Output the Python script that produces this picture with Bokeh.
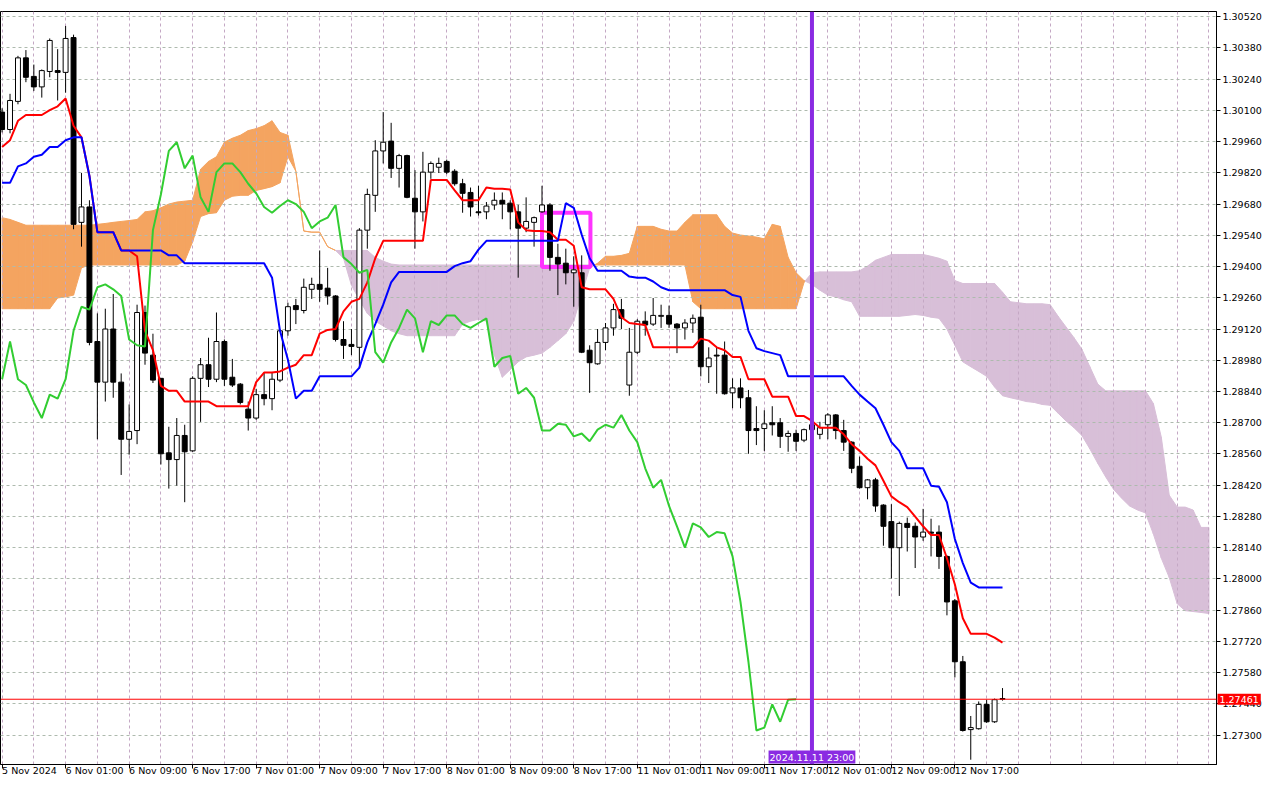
from bokeh.plotting import figure
from bokeh.models import Range1d, FixedTicker, PrintfTickFormatter, Span, Label, BoxAnnotation, ColumnDataSource
from bokeh.embed import file_html
from bokeh.resources import INLINE

# ---------------- data (hourly bars, bar index 0 = 5 Nov 17:00) ----------------
opens = [1.30092, 1.30014, 1.30140, 1.30335, 1.30252, 1.30205, 1.30274, 1.30278, 1.30270, 1.30426,
         1.29598, 1.29667, 1.29064, 1.28882, 1.29120, 1.28882, 1.28626, 1.28665, 1.29194, 1.29003,
         1.28899, 1.28565, 1.28535, 1.28643, 1.28574, 1.28899, 1.28960, 1.28895, 1.29064, 1.28904,
         1.28873, 1.28761, 1.28721, 1.28826, 1.28808, 1.28891, 1.29112, 1.29225, 1.29203, 1.29298,
         1.29320, 1.29303, 1.29268, 1.29073, 1.29051, 1.29038, 1.29563, 1.29719, 1.29918, 1.29962,
         1.29840, 1.29897, 1.29706, 1.29645, 1.29823, 1.29845, 1.29871, 1.29827, 1.29771, 1.29732,
         1.29645, 1.29645, 1.29676, 1.29697, 1.29684, 1.29645, 1.29572, 1.29598, 1.29645, 1.29676,
         1.29441, 1.29415, 1.29372, 1.29372, 1.29025, 1.28964, 1.29060, 1.29125, 1.29207, 1.28869,
         1.29016, 1.29155, 1.29142, 1.29177, 1.29181, 1.29142, 1.29125, 1.29147, 1.29173, 1.28951,
         1.29003, 1.29003, 1.28834, 1.28856, 1.28812, 1.28674, 1.28674, 1.28700, 1.28700, 1.28639,
         1.28652, 1.28622, 1.28669, 1.28648, 1.28691, 1.28735, 1.28665, 1.28613, 1.28505, 1.28409,
         1.28444, 1.28331, 1.28257, 1.28140, 1.28249, 1.28236, 1.28188, 1.28210, 1.28210, 1.28101,
         1.27902, 1.27629, 1.27325, 1.27329, 1.27438, 1.27360, 1.27464]
highs = [1.30109, 1.30174, 1.30344, 1.30370, 1.30305, 1.30283, 1.30422, 1.30374, 1.30478, 1.30439,
         1.29819, 1.29697, 1.29190, 1.29211, 1.29277, 1.28921, 1.28782, 1.29229, 1.29225, 1.29099,
         1.28899, 1.28682, 1.28721, 1.28691, 1.28908, 1.28990, 1.29081, 1.29194, 1.29073, 1.28986,
         1.28878, 1.28795, 1.28852, 1.28925, 1.28925, 1.29120, 1.29238, 1.29255, 1.29346, 1.29350,
         1.29472, 1.29394, 1.29272, 1.29155, 1.29120, 1.29572, 1.29749, 1.29966, 1.30092, 1.30044,
         1.29905, 1.29901, 1.29832, 1.29914, 1.29871, 1.29888, 1.29879, 1.29836, 1.29793, 1.29754,
         1.29762, 1.29689, 1.29732, 1.29732, 1.29697, 1.29676, 1.29710, 1.29624, 1.29762, 1.29684,
         1.29502, 1.29480, 1.29446, 1.29450, 1.29047, 1.29120, 1.29147, 1.29233, 1.29255, 1.29125,
         1.29164, 1.29199, 1.29259, 1.29229, 1.29225, 1.29147, 1.29164, 1.29185, 1.29229, 1.29038,
         1.29038, 1.29064, 1.28899, 1.28899, 1.28847, 1.28774, 1.28756, 1.28774, 1.28721, 1.28665,
         1.28669, 1.28674, 1.28704, 1.28704, 1.28743, 1.28739, 1.28713, 1.28617, 1.28548, 1.28448,
         1.28453, 1.28335, 1.28335, 1.28257, 1.28275, 1.28253, 1.28314, 1.28270, 1.28240, 1.28106,
         1.27910, 1.27655, 1.27386, 1.27451, 1.27459, 1.27464, 1.27511]
lows = [1.30001, 1.29997, 1.30127, 1.30226, 1.30187, 1.30157, 1.30248, 1.30144, 1.30179, 1.29567,
        1.29489, 1.29047, 1.28626, 1.28795, 1.28812, 1.28466, 1.28557, 1.28604, 1.28960, 1.28878,
        1.28513, 1.28405, 1.28418, 1.28344, 1.28570, 1.28704, 1.28860, 1.28882, 1.28865, 1.28860,
        1.28782, 1.28665, 1.28713, 1.28778, 1.28756, 1.28882, 1.29090, 1.29142, 1.29190, 1.29255,
        1.29242, 1.29229, 1.29064, 1.28986, 1.29003, 1.28943, 1.29480, 1.29645, 1.29862, 1.29797,
        1.29754, 1.29706, 1.29480, 1.29602, 1.29793, 1.29819, 1.29814, 1.29762, 1.29641, 1.29624,
        1.29628, 1.29612, 1.29654, 1.29612, 1.29567, 1.29350, 1.29554, 1.29489, 1.29641, 1.29381,
        1.29272, 1.29320, 1.29220, 1.29012, 1.28834, 1.28960, 1.29025, 1.29090, 1.29120, 1.28821,
        1.29008, 1.29090, 1.29134, 1.29125, 1.29125, 1.29012, 1.29073, 1.29103, 1.28908, 1.28878,
        1.28830, 1.28826, 1.28765, 1.28765, 1.28561, 1.28600, 1.28574, 1.28643, 1.28587, 1.28570,
        1.28574, 1.28613, 1.28635, 1.28626, 1.28626, 1.28626, 1.28574, 1.28474, 1.28405, 1.28357,
        1.28301, 1.28149, 1.28002, 1.27924, 1.28123, 1.28049, 1.28171, 1.28101, 1.28045, 1.27837,
        1.27559, 1.27316, 1.27190, 1.27325, 1.27355, 1.27355, 1.27455]
closes = [1.30014, 1.30144, 1.30335, 1.30248, 1.30205, 1.30278, 1.30413, 1.30270, 1.30422, 1.29589,
          1.29667, 1.29060, 1.28882, 1.29120, 1.28882, 1.28626, 1.28661, 1.29194, 1.29012, 1.28891,
          1.28561, 1.28535, 1.28643, 1.28570, 1.28899, 1.28960, 1.28895, 1.29064, 1.28895, 1.28869,
          1.28791, 1.28721, 1.28826, 1.28808, 1.28895, 1.29112, 1.29220, 1.29207, 1.29307, 1.29320,
          1.29298, 1.29268, 1.29073, 1.29047, 1.29042, 1.29563, 1.29723, 1.29918, 1.29957, 1.29840,
          1.29897, 1.29710, 1.29645, 1.29823, 1.29862, 1.29862, 1.29823, 1.29771, 1.29728, 1.29667,
          1.29641, 1.29671, 1.29697, 1.29680, 1.29645, 1.29572, 1.29602, 1.29619, 1.29676, 1.29441,
          1.29411, 1.29372, 1.29385, 1.29016, 1.28969, 1.29060, 1.29125, 1.29207, 1.29168, 1.29016,
          1.29155, 1.29138, 1.29181, 1.29181, 1.29142, 1.29125, 1.29147, 1.29168, 1.28951, 1.28990,
          1.28999, 1.28830, 1.28856, 1.28812, 1.28665, 1.28665, 1.28695, 1.28691, 1.28639, 1.28652,
          1.28617, 1.28669, 1.28691, 1.28678, 1.28735, 1.28665, 1.28613, 1.28496, 1.28409, 1.28444,
          1.28327, 1.28236, 1.28140, 1.28249, 1.28231, 1.28188, 1.28210, 1.28205, 1.28101, 1.27897,
          1.27629, 1.27321, 1.27334, 1.27438, 1.27360, 1.27459, 1.27461]

tenkan = [1.29936, 1.29966, 1.30053, 1.30079, 1.30079, 1.30079, 1.30101, 1.30118, 1.30153, 1.30031,
          1.29979, 1.29806, 1.29554, 1.29554, 1.29554, 1.29472, 1.29472, 1.29446, 1.29112, 1.29025,
          1.28865, 1.28843, 1.28843, 1.28795, 1.28795, 1.28795, 1.28795, 1.28774, 1.28774, 1.28774,
          1.28774, 1.28774, 1.28882, 1.28925, 1.28925, 1.28930, 1.28947, 1.28960, 1.29003, 1.29003,
          1.29099, 1.29116, 1.29120, 1.29199, 1.29242, 1.29255, 1.29329, 1.29437, 1.29515, 1.29515,
          1.29515, 1.29515, 1.29515, 1.29515, 1.29788, 1.29788, 1.29788, 1.29741, 1.29697, 1.29697,
          1.29697, 1.29754, 1.29749, 1.29749, 1.29745, 1.29598, 1.29563, 1.29559, 1.29559, 1.29554,
          1.29520, 1.29520, 1.29493, 1.29307, 1.29298, 1.29298, 1.29298, 1.29255, 1.29173, 1.29147,
          1.29142, 1.29138, 1.29038, 1.29038, 1.29038, 1.29038, 1.29038, 1.29038, 1.29077, 1.29068,
          1.29038, 1.29025, 1.28995, 1.28995, 1.28895, 1.28895, 1.28895, 1.28817, 1.28817, 1.28817,
          1.28730, 1.28730, 1.28708, 1.28678, 1.28678, 1.28678, 1.28648, 1.28604, 1.28574, 1.28539,
          1.28509, 1.28440, 1.28370, 1.28344, 1.28322, 1.28279, 1.28236, 1.28197, 1.28197, 1.28093,
          1.27975, 1.27824, 1.27754, 1.27754, 1.27754, 1.27737, 1.27715]

kijun = [1.29775, 1.29775, 1.29849, 1.29862, 1.29892, 1.29901, 1.29936, 1.29936, 1.29966, 1.29979,
         1.29979, 1.29806, 1.29554, 1.29554, 1.29554, 1.29472, 1.29472, 1.29472, 1.29472, 1.29472,
         1.29472, 1.29450, 1.29450, 1.29415, 1.29415, 1.29415, 1.29415, 1.29415, 1.29415, 1.29415,
         1.29415, 1.29415, 1.29415, 1.29415, 1.29350, 1.29112, 1.28982, 1.28808, 1.28843, 1.28843,
         1.28908, 1.28908, 1.28908, 1.28908, 1.28908, 1.28947, 1.29060, 1.29142, 1.29229, 1.29329,
         1.29376, 1.29376, 1.29376, 1.29376, 1.29376, 1.29376, 1.29376, 1.29402, 1.29415, 1.29424,
         1.29476, 1.29515, 1.29515, 1.29515, 1.29515, 1.29515, 1.29515, 1.29515, 1.29515, 1.29515,
         1.29515, 1.29684, 1.29663, 1.29543, 1.29437, 1.29381, 1.29381, 1.29381, 1.29381, 1.29355,
         1.29350, 1.29350, 1.29333, 1.29307, 1.29294, 1.29294, 1.29294, 1.29294, 1.29294, 1.29294,
         1.29294, 1.29294, 1.29272, 1.29264, 1.29112, 1.29034, 1.29021, 1.29012, 1.29003, 1.28908,
         1.28908, 1.28908, 1.28908, 1.28908, 1.28908, 1.28908, 1.28908, 1.28865, 1.28826, 1.28795,
         1.28765, 1.28691, 1.28613, 1.28574, 1.28496, 1.28496, 1.28496, 1.28418, 1.28413, 1.28344,
         1.28179, 1.28071, 1.27984, 1.27962, 1.27962, 1.27962, 1.27962]

# Senkou spans, drawn 26 bars ahead (index 0..152)
span_a = [1.29619, 1.29611, 1.29598, 1.29585, 1.29585, 1.29585, 1.29585, 1.29585, 1.29585, 1.29585,
          1.29585, 1.29585, 1.29589, 1.29593, 1.29598, 1.29602, 1.29606, 1.29611, 1.29645, 1.29650,
          1.29663, 1.29680, 1.29689, 1.29693, 1.29697, 1.29836, 1.29871, 1.29892, 1.29957, 1.29975,
          1.29988, 1.30009, 1.30018, 1.30031, 1.30053, 1.30001, 1.29988, 1.29827, 1.29559, 1.29554,
          1.29554, 1.29489, 1.29472, 1.29437, 1.29316, 1.29251, 1.29190, 1.29155, 1.29134, 1.29112,
          1.29099, 1.29090, 1.29090, 1.29090, 1.29090, 1.29090, 1.29090, 1.29090, 1.29142, 1.29155,
          1.29164, 1.29155, 1.29003, 1.28904, 1.28938, 1.28973, 1.28995, 1.29003, 1.29012, 1.29038,
          1.29068, 1.29099, 1.29155, 1.29277, 1.29394, 1.29415, 1.29446, 1.29446, 1.29450, 1.29459,
          1.29580, 1.29580, 1.29580, 1.29567, 1.29559, 1.29559, 1.29598, 1.29632, 1.29632, 1.29632,
          1.29632, 1.29580, 1.29550, 1.29541, 1.29537, 1.29532, 1.29524, 1.29589, 1.29580, 1.29441,
          1.29372, 1.29337, 1.29320, 1.29294, 1.29272, 1.29264, 1.29251, 1.29242, 1.29177, 1.29177,
          1.29177, 1.29177, 1.29177, 1.29177, 1.29181, 1.29185, 1.29181, 1.29173, 1.29168, 1.29120,
          1.29047, 1.28973, 1.28951, 1.28930, 1.28908, 1.28860, 1.28821, 1.28812, 1.28804, 1.28795,
          1.28791, 1.28782, 1.28778, 1.28743, 1.28708, 1.28678, 1.28643, 1.28583, 1.28518, 1.28457,
          1.28401, 1.28362, 1.28327, 1.28309, 1.28296, 1.28201, 1.28093, 1.28006, 1.27889, 1.27858,
          1.27854, 1.27850, 1.27845]
span_b = [1.29211, 1.29211, 1.29211, 1.29211, 1.29211, 1.29211, 1.29211, 1.29259, 1.29264, 1.29272,
          1.29394, 1.29407, 1.29407, 1.29407, 1.29407, 1.29407, 1.29407, 1.29407, 1.29407, 1.29407,
          1.29407, 1.29407, 1.29407, 1.29424, 1.29511, 1.29624, 1.29637, 1.29641, 1.29697, 1.29715,
          1.29719, 1.29719, 1.29741, 1.29749, 1.29758, 1.29775, 1.29892, 1.29827, 1.29559, 1.29554,
          1.29554, 1.29489, 1.29472, 1.29472, 1.29472, 1.29472, 1.29472, 1.29441, 1.29424, 1.29411,
          1.29407, 1.29407, 1.29407, 1.29407, 1.29407, 1.29407, 1.29407, 1.29407, 1.29407, 1.29407,
          1.29407, 1.29407, 1.29407, 1.29407, 1.29407, 1.29407, 1.29407, 1.29407, 1.29407, 1.29407,
          1.29407, 1.29407, 1.29407, 1.29407, 1.29407, 1.29407, 1.29407, 1.29407, 1.29407, 1.29407,
          1.29407, 1.29407, 1.29407, 1.29407, 1.29407, 1.29407, 1.29407, 1.29242, 1.29211, 1.29211,
          1.29211, 1.29211, 1.29211, 1.29211, 1.29211, 1.29211, 1.29211, 1.29211, 1.29211, 1.29211,
          1.29211, 1.29329, 1.29372, 1.29376, 1.29376, 1.29376, 1.29376, 1.29376, 1.29381, 1.29402,
          1.29428, 1.29441, 1.29454, 1.29454, 1.29454, 1.29454, 1.29454, 1.29446, 1.29437, 1.29424,
          1.29337, 1.29324, 1.29324, 1.29324, 1.29324, 1.29324, 1.29285, 1.29242, 1.29238, 1.29233,
          1.29233, 1.29233, 1.29229, 1.29177, 1.29129, 1.29081, 1.29029, 1.28951, 1.28873, 1.28843,
          1.28843, 1.28843, 1.28843, 1.28843, 1.28843, 1.28786, 1.28635, 1.28375, 1.28322, 1.28322,
          1.28309, 1.28231, 1.28231]

chikou_shift = 26
current_price = 1.27461
marker_bar = 102
marker_text = "2024.11.11 23:00"
box_bars = (68.0, 74.1)
box_prices = (1.29398, 1.29641)

time_tick_bars = [0, 8, 16, 24, 32, 40, 48, 56, 64, 72, 80, 88, 96, 104, 112, 120]
time_tick_labels = ["5 Nov 2024", "6 Nov 01:00", "6 Nov 09:00", "6 Nov 17:00", "7 Nov 01:00",
                    "7 Nov 09:00", "7 Nov 17:00", "8 Nov 01:00", "8 Nov 09:00", "8 Nov 17:00",
                    "11 Nov 01:00", "11 Nov 09:00", "11 Nov 17:00", "12 Nov 01:00", "12 Nov 09:00",
                    "12 Nov 17:00"]
price_ticks = [1.27300, 1.27440, 1.27580, 1.27720, 1.27860, 1.28000, 1.28140, 1.28280, 1.28420,
               1.28560, 1.28700, 1.28840, 1.28980, 1.29120, 1.29260, 1.29400, 1.29540, 1.29680,
               1.29820, 1.29960, 1.30100, 1.30240, 1.30380, 1.30520]

# ---------------- figure ----------------
FONT = "DejaVu Sans"
FS = "9.5px"
n_bars = len(closes)
n_cloud = len(span_a)
Y0, Y1 = 1.271686, 1.305428
X0, X1 = -0.2, 152.95

p = figure(width=1264, height=784, output_backend="svg", toolbar_location=None,
           x_range=Range1d(X0, X1), y_range=Range1d(Y0, Y1),
           y_axis_location="right", min_border_left=0, min_border_top=0,
           min_border_right=0, min_border_bottom=0)
p.background_fill_color = "white"
p.border_fill_color = "white"
p.outline_line_color = "black"
p.outline_line_width = 1

# grid (drawn above the cloud, as in the terminal)
p.xgrid.ticker = FixedTicker(ticks=list(range(0, n_cloud, 4)))
p.xgrid.grid_line_color = "#c4a8c4"
p.xgrid.grid_line_dash = "3 3"
p.ygrid.grid_line_color = "#aebaae"
p.ygrid.grid_line_dash = "3 3"

# axes
xa = p.xaxis[0]
xa.ticker = FixedTicker(ticks=time_tick_bars)
xa.major_label_overrides = {b: t for b, t in zip(time_tick_bars, time_tick_labels)}
xa.major_label_orientation = -0.0001   # numeric angle -> labels start at the tick
ya = p.yaxis[0]
ya.ticker = FixedTicker(ticks=price_ticks)
ya.formatter = PrintfTickFormatter(format="%.5f")
for ax in (xa, ya):
    ax.axis_label = None
    ax.axis_label_standoff = 0
    ax.major_label_text_font = FONT
    ax.major_label_text_font_size = FS
    ax.major_label_text_color = "black"
    ax.axis_line_color = "black"
    ax.major_tick_line_color = "black"
    ax.major_tick_in = 0
    ax.major_tick_out = 4
    ax.minor_tick_line_color = None
    ax.major_label_standoff = 2

# cloud (Kumo): split segments at crossings, orange when span A above span B
UP, DOWN = "#f4a460", "#d8bfd8"
cxs, cys, ccol = [], [], []
for i in range(n_cloud - 1):
    a0, a1, b0, b1 = span_a[i], span_a[i + 1], span_b[i], span_b[i + 1]
    d0, d1 = a0 - b0, a1 - b1
    if d0 * d1 < 0:
        t = d0 / (d0 - d1)
        xm = i + t
        ym = a0 + t * (a1 - a0)
        cxs.append([i, xm, i]); cys.append([a0, ym, b0]); ccol.append(UP if d0 > 0 else DOWN)
        cxs.append([xm, i + 1, i + 1]); cys.append([ym, a1, b1]); ccol.append(UP if d1 > 0 else DOWN)
    else:
        cxs.append([i, i + 1, i + 1, i]); cys.append([a0, a1, b1, b0])
        ccol.append(UP if (d0 + d1) >= 0 else DOWN)
p.patches(xs="xs", ys="ys", fill_color="c", line_color="c", line_width=1, level="image",
          source=ColumnDataSource(dict(xs=cxs, ys=cys, c=ccol)))

# magenta box (above cloud and grid, behind candles)
p.add_layout(BoxAnnotation(left=box_bars[0], right=box_bars[1], bottom=box_prices[0], top=box_prices[1],
                           fill_alpha=0, line_color="#ff33ff", line_alpha=1.0, line_width=4,
                           level="underlay"))

# candles
bars = list(range(n_bars))
src = ColumnDataSource(dict(
    x=bars, high=highs, low=lows,
    top=[max(o, c) for o, c in zip(opens, closes)],
    bottom=[min(o, c) for o, c in zip(opens, closes)],
    fill=["white" if c >= o else "black" for o, c in zip(opens, closes)],
))
p.segment(x0="x", y0="high", x1="x", y1="low", line_color="black", line_width=1, source=src)
p.vbar(x="x", width=0.62, top="top", bottom="bottom", fill_color="fill", line_color="black",
       line_width=1, source=src)

# Ichimoku lines
p.line(bars, tenkan, line_color="#ff0000", line_width=2)
p.line(bars, kijun, line_color="#0000ff", line_width=2)
p.line(list(range(n_bars - chikou_shift)), closes[chikou_shift:], line_color="#32cd32", line_width=2)

# current price line and marker line
p.add_layout(Span(location=current_price, dimension="width", line_color="#ff0000", line_width=1))
p.add_layout(Span(location=marker_bar, dimension="height", line_color="#8a2be2", line_width=4))

# price tag over the right axis (hosted in the top panel so it is not clipped to the frame)
p.add_layout(Label(x=X1, y=current_price, x_offset=1, text=f"{current_price:.5f}",
                   text_align="left", text_baseline="middle", text_color="white",
                   text_font=FONT, text_font_size=FS,
                   background_fill_color="#ff0000", padding=2), "above")
# time tag of the marker line, at the bottom edge of the chart
p.add_layout(Label(x=marker_bar, y=Y0, y_offset=1, text=marker_text,
                   text_align="center", text_baseline="bottom", text_color="white",
                   text_font=FONT, text_font_size=FS,
                   background_fill_color="#8a2be2", padding=1))

open("out.html", "w").write(file_html(p, INLINE))
